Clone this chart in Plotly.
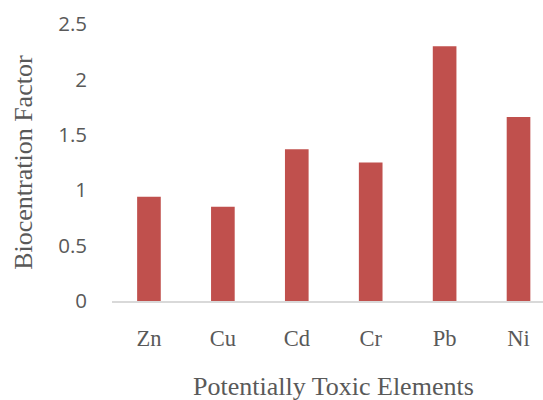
import plotly.graph_objects as go

# Biocentration factor per potentially toxic element
elements = ["Zn", "Cu", "Cd", "Cr", "Pb", "Ni"]
bcf_values = [0.94, 0.85, 1.37, 1.25, 2.30, 1.66]
y_ticks = [0, 0.5, 1, 1.5, 2, 2.5]
y_tick_text = ["0", "0.5", "1", "1.5", "2", "2.5"]

W, H = 543, 400
ml, mr, mt, mb = 111.5, 0, 23.5, 99
pw, ph = W - ml - mr, H - mt - mb
band = 74.0  # pixel width of one category band

fig = go.Figure(
    go.Bar(
        x=list(range(len(elements))),
        y=bcf_values,
        marker=dict(color="#C0504D", line=dict(width=0)),
        width=0.32,
    )
)

text_col = "#595959"

fig.update_layout(
    width=W,
    height=H,
    margin=dict(l=ml, r=mr, t=mt, b=mb, pad=0),
    paper_bgcolor="white",
    plot_bgcolor="white",
    showlegend=False,
    xaxis=dict(
        range=[-0.5, -0.5 + pw / band],
        tickvals=list(range(len(elements))),
        ticktext=elements,
        tickfont=dict(family="Liberation Serif", size=22.5, color=text_col),
        showgrid=False,
        zeroline=False,
        showline=True,
        linecolor="#D9D9D9",
        linewidth=1.5,
        ticks="",
        ticklabelstandoff=16,
    ),
    yaxis=dict(
        range=[0, 2.5],
        tickvals=y_ticks,
        ticktext=y_tick_text,
        tickfont=dict(family="Open Sans", size=20.5, color=text_col),
        showgrid=False,
        zeroline=False,
        showline=False,
        ticks="",
        ticklabelstandoff=24,
    ),
    annotations=[
        dict(
            text="Potentially Toxic Elements",
            xref="paper", yref="paper",
            x=(333.5 - ml) / pw, y=(301 - 387) / ph,
            xanchor="center", yanchor="middle",
            showarrow=False,
            font=dict(family="Liberation Serif", size=26, color=text_col),
        ),
        dict(
            text="Biocentration Factor",
            xref="paper", yref="paper",
            x=(23 - ml) / pw, y=(301 - 162) / ph,
            xanchor="center", yanchor="middle",
            textangle=-90,
            showarrow=False,
            font=dict(family="Liberation Serif", size=26, color=text_col),
        ),
    ],
)

fig.write_html("out.html")
